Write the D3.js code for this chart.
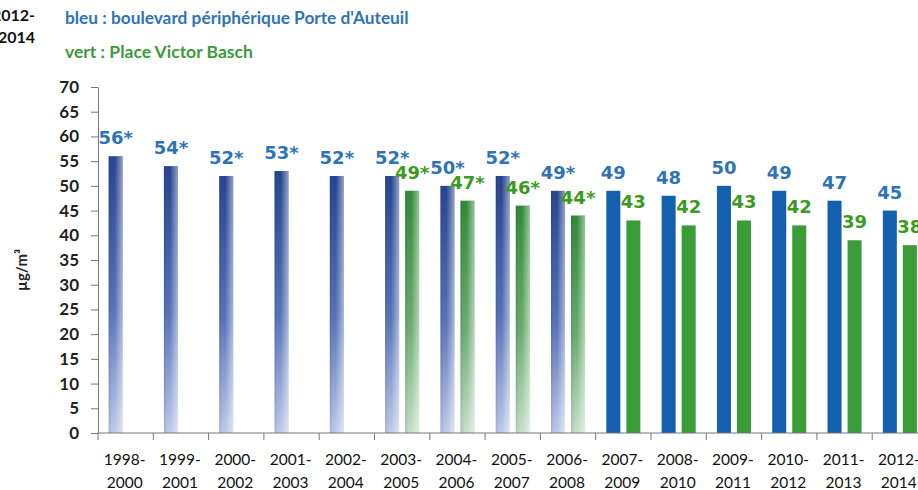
<!DOCTYPE html>
<html>
<head>
<meta charset="utf-8">
<script src="https://cdn.jsdelivr.net/npm/d3@7"></script>
<style>
  body { margin: 0; background: #fff; }
  svg { display: block; }
</style>
</head>
<body>
<svg id="chart" width="918" height="490"></svg>
<script>
// periods (3-year averages)
const periods = ["1998-2000", "1999-2001", "2000-2002", "2001-2003", "2002-2004",
                 "2003-2005", "2004-2006", "2005-2007", "2006-2008", "2007-2009",
                 "2008-2010", "2009-2011", "2010-2012", "2011-2013", "2012-2014"];
// bleu : boulevard périphérique Porte d'Auteuil
const bleuValues = [56, 54, 52, 53, 52, 52, 50, 52, 49, 49, 48, 50, 49, 47, 45];
// vert : Place Victor Basch
const vertValues = [null, null, null, null, null, 49, 47, 46, 44, 43, 42, 43, 42, 39, 38];
// estimated values (shown with *)
const estimated = [true, true, true, true, true, true, true, true, true,
                   false, false, false, false, false, false];
const yTicks = [0, 5, 10, 15, 20, 25, 30, 35, 40, 45, 50, 55, 60, 65, 70];

const svg = d3.select("#chart");
const margin = {top: 87, left: 98, bottom: 433};

const x = d3.scaleBand()
    .domain(periods)
    .range([margin.left, margin.left + 55.3 * periods.length])
    .paddingInner(0)
    .paddingOuter(0);

const xSub = d3.scaleBand()
    .domain(["bleu", "vert"])
    .range([0, x.bandwidth()])
    .paddingInner(0.3)
    .paddingOuter(0.53);

const y = d3.scaleLinear()
    .domain([0, 70])
    .range([margin.bottom, margin.top]);

// gradients for the estimated bars
const defs = svg.append("defs");
function vGrad(id, stops) {
    let g = defs.append("linearGradient").attr("id", id)
        .attr("x1", 0).attr("y1", 0).attr("x2", 0).attr("y2", 1);
    stops.forEach(s => g.append("stop").attr("offset", s[0]).attr("stop-color", s[1]));
}
vGrad("gradBleu", [[0, "#22408e"], [0.55, "#5470b6"], [1, "#bccae9"]]);
vGrad("gradVert", [[0, "#2c8833"], [0.55, "#68aa6c"], [1, "#c4e0c6"]]);
let shade = defs.append("linearGradient").attr("id", "shade")
    .attr("x1", 0).attr("y1", 0).attr("x2", 1).attr("y2", 0);
shade.append("stop").attr("offset", 0).attr("stop-color", "#0a1a40").attr("stop-opacity", 0.15);
shade.append("stop").attr("offset", 0.4).attr("stop-color", "#ffffff").attr("stop-opacity", 0);
shade.append("stop").attr("offset", 1).attr("stop-color", "#ffffff").attr("stop-opacity", 0.5);

// legend text
svg.append("text").attr("x", 65).attr("y", 24)
    .attr("font-family", "Lato, sans-serif").attr("font-weight", "bold")
    .attr("font-size", "17.3px").attr("fill", "#2e74b5")
    .text("bleu : boulevard périphérique Porte d'Auteuil");
svg.append("text").attr("x", 65).attr("y", 58)
    .attr("font-family", "Lato, sans-serif").attr("font-weight", "bold")
    .attr("font-size", "17.5px").attr("fill", "#3c9a3c")
    .text("vert : Place Victor Basch");

// leftover label cut by the left edge
svg.append("text").attr("x", 35).attr("y", 21).attr("text-anchor", "end")
    .attr("font-family", "Lato, sans-serif").attr("font-weight", "bold")
    .attr("font-size", "16px").attr("fill", "#111").text("2012-");
svg.append("text").attr("x", 35).attr("y", 43).attr("text-anchor", "end")
    .attr("font-family", "Lato, sans-serif").attr("font-weight", "bold")
    .attr("font-size", "16px").attr("fill", "#111").text("2014");

// y axis
const yAxis = svg.append("g")
    .attr("transform", `translate(${margin.left},0)`)
    .call(d3.axisLeft(y).tickValues(yTicks).tickSize(7).tickPadding(12).tickSizeOuter(0));
yAxis.select(".domain").attr("stroke", "#777");
yAxis.selectAll(".tick line").attr("stroke", "#777");
yAxis.selectAll("text")
    .attr("font-family", "Lato, sans-serif").attr("font-weight", "bold")
    .attr("font-size", "17px").attr("fill", "#222");

svg.append("text")
    .attr("transform", "translate(27,270) rotate(-90)")
    .attr("text-anchor", "middle")
    .attr("font-family", "Lato, sans-serif").attr("font-weight", "bold")
    .attr("font-size", "15px").attr("fill", "#222")
    .text("µg/m³");

// bars
const rows = periods.map((p, i) => ({period: p, bleu: bleuValues[i], vert: vertValues[i], est: estimated[i]}));
const bars = [];
rows.forEach(r => {
    bars.push({period: r.period, key: "bleu", value: r.bleu, est: r.est});
    if (r.vert !== null) bars.push({period: r.period, key: "vert", value: r.vert, est: r.est});
});

const solid = {bleu: "#1560ae", vert: "#3a9d3a"};
const labelColor = {bleu: "#2e74b5", vert: "#3c9a1e"};

svg.append("g").selectAll("rect.bar")
    .data(bars).enter().append("rect")
    .attr("class", "bar")
    .attr("x", d => x(d.period) + xSub(d.key))
    .attr("width", xSub.bandwidth())
    .attr("y", d => y(d.value))
    .attr("height", d => y(0) - y(d.value))
    .attr("fill", d => d.est ? (d.key === "bleu" ? "url(#gradBleu)" : "url(#gradVert)") : solid[d.key]);

svg.append("g").selectAll("rect.shade")
    .data(bars.filter(d => d.est)).enter().append("rect")
    .attr("class", "shade")
    .attr("x", d => x(d.period) + xSub(d.key))
    .attr("width", xSub.bandwidth())
    .attr("y", d => y(d.value))
    .attr("height", d => y(0) - y(d.value))
    .attr("fill", "url(#shade)");

// value labels
svg.append("g").selectAll("text")
    .data(bars).enter().append("text")
    .attr("x", d => x(d.period) + xSub(d.key) + xSub.bandwidth() / 2)
    .attr("y", d => y(d.value) - 12)
    .attr("text-anchor", "middle")
    .attr("font-family", "'DejaVu Sans', Verdana, sans-serif").attr("font-weight", "bold")
    .attr("font-size", "18px")
    .attr("fill", d => labelColor[d.key])
    .text(d => d.value + (d.est ? "*" : ""));

// x axis
const xg = svg.append("g");
xg.append("line")
    .attr("x1", margin.left).attr("x2", 918)
    .attr("y1", y(0)).attr("y2", y(0))
    .attr("stroke", "#777");
xg.selectAll("line.tick")
    .data(periods).enter().append("line")
    .attr("class", "tick")
    .attr("x1", d => x(d)).attr("x2", d => x(d))
    .attr("y1", y(0)).attr("y2", y(0) + 7)
    .attr("stroke", "#777");

const xl = xg.selectAll("text.xl")
    .data(periods).enter().append("text")
    .attr("class", "xl")
    .attr("text-anchor", "middle")
    .attr("font-family", "Lato, sans-serif")
    .attr("font-size", "15.5px").attr("fill", "#111");
xl.append("tspan")
    .attr("x", d => x(d) + x.bandwidth() / 2 - 1)
    .attr("y", 465)
    .text(d => d.split("-")[0] + "-");
xl.append("tspan")
    .attr("x", d => x(d) + x.bandwidth() / 2 - 1)
    .attr("y", 488)
    .text(d => d.split("-")[1]);
</script>
</body>
</html>
